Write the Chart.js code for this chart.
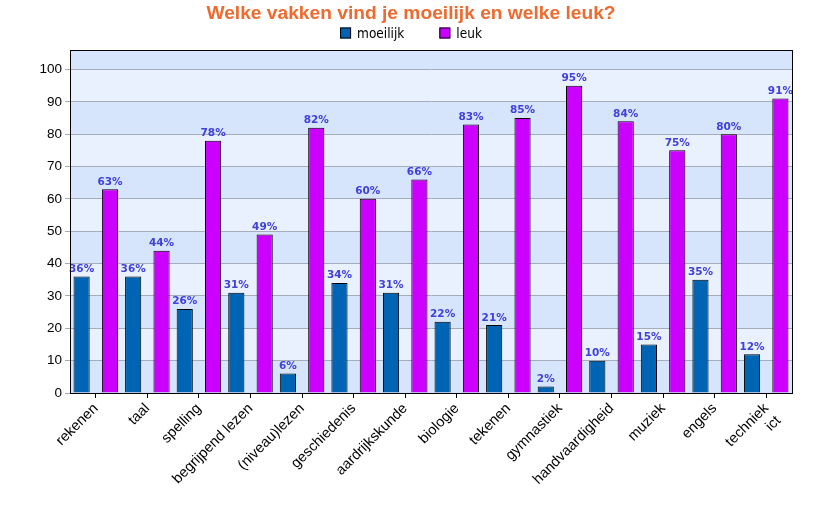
<!DOCTYPE html>
<html>
<head>
<meta charset="utf-8">
<script src="https://cdn.jsdelivr.net/npm/chart.js@4/dist/chart.umd.min.js"></script>
<style>
    body { margin: 0; background: #ffffff; }
    #wrap { width: 822px; height: 522px; }
</style>
</head>
<body>
<div id="wrap"><canvas id="grafiek" width="822" height="522"></canvas></div>
<script>
// ================== DATA ==================

const vakken = ['rekenen', 'taal', 'spelling', 'begrijpend lezen', '(niveau)lezen', 'geschiedenis',
    'aardrijkskunde', 'biologie', 'tekenen', 'gymnastiek', 'handvaardigheid', 'muziek', 'engels',
    ['techniek', 'ict']];
const moeilijk = [36, 36, 26, 31, 6, 34, 31, 22, 21, 2, 10, 15, 35, 12];
const leuk = [63, 44, 78, 49, 82, 60, 66, 83, 85, 95, 84, 75, 80, 91];
const yTicks = [0, 10, 20, 30, 40, 50, 60, 70, 80, 90, 100];
const yMax = 106;

const BLAUW = '#0064b4';
const PAARS = '#cc00ff';

// ================== PLUGINS ==================

// achtergrond in banden van 10
const banden = {
    id: 'banden',
    beforeDraw(chart) {
        const { ctx, chartArea: a, scales: { y } } = chart;
        ctx.save();
        for (let v = 0, i = 0; v < y.max; v += 10, i++) {
            const top = y.getPixelForValue(Math.min(v + 10, y.max));
            const bottom = y.getPixelForValue(v);
            ctx.fillStyle = i % 2 === 0 ? '#d6e5fb' : '#e9f1fe';
            ctx.fillRect(a.left, top, a.right - a.left, bottom - top);
        }
        ctx.restore();
    }
};

// percentages boven de staven
const waarden = {
    id: 'waarden',
    afterDatasetsDraw(chart) {
        const ctx = chart.ctx;
        ctx.save();
        ctx.font = 'bold 10.5px "DejaVu Sans"';
        ctx.fillStyle = '#4040dc';
        ctx.textAlign = 'center';
        ctx.textBaseline = 'bottom';
        chart.data.datasets.forEach((ds, d) => {
            chart.getDatasetMeta(d).data.forEach((bar, i) => {
                ctx.fillText(ds.data[i] + '%', bar.x, bar.y - 2);
            });
        });
        ctx.restore();
    }
};

// rand om het plotgebied + legenda
const rand = {
    id: 'rand',
    afterDraw(chart) {
        const { ctx, chartArea: a } = chart;
        ctx.save();
        ctx.strokeStyle = '#000';
        ctx.lineWidth = 1;
        ctx.strokeRect(Math.round(a.left) + 0.5, Math.round(a.top) + 0.5,
            Math.round(a.right - a.left), Math.round(a.bottom - a.top));

        // legenda
        ctx.font = '13.5px "DejaVu Sans Condensed", sans-serif';
        const items = chart.data.datasets.map(ds => ({
            tekst: ds.label, kleur: ds.backgroundColor, w: ctx.measureText(ds.label).width
        }));
        const box = 11, gap = 6, tussen = 35;
        let totaal = items.reduce((s, it) => s + box + gap + it.w, 0) + tussen * (items.length - 1);
        let x = 411 - totaal / 2;
        const yc = 33;
        ctx.textBaseline = 'middle';
        ctx.textAlign = 'left';
        items.forEach(it => {
            ctx.fillStyle = it.kleur;
            ctx.fillRect(x, yc - box / 2, box, box);
            ctx.strokeStyle = '#000';
            ctx.strokeRect(x + 0.5, yc - box / 2 + 0.5, box - 1, box - 1);
            ctx.fillStyle = '#000';
            ctx.fillText(it.tekst, x + box + gap, yc + 1);
            x += box + gap + it.w + tussen;
        });
        ctx.restore();
    }
};

// ================== GRAFIEK ==================

const ctx = document.getElementById('grafiek');

const grafiek = new Chart(ctx, {
    type: 'bar',
    data: {
        labels: vakken,
        datasets: [{
            label: 'moeilijk',
            data: moeilijk,
            backgroundColor: BLAUW,
            borderColor: '#000',
            borderWidth: 1,
            categoryPercentage: 1.1,
            barPercentage: 0.57
        }, {
            label: 'leuk',
            data: leuk,
            backgroundColor: PAARS,
            borderColor: '#000',
            borderWidth: 1,
            categoryPercentage: 1.1,
            barPercentage: 0.57
        }]
    },
    options: {
        responsive: false,
        animation: false,
        devicePixelRatio: 1,
        // links en rechts even veel, zodat de titel midden staat
        layout: { padding: { left: 30, right: 30, top: 0, bottom: 0 } },
        plugins: {
            legend: { display: false },
            tooltip: { enabled: false },
            title: {
                display: true,
                text: 'Welke vakken vind je moeilijk en welke leuk?',
                color: '#ee6a2e',
                font: { family: 'Liberation Sans', size: 19.2, weight: 'bold' },
                padding: { top: 2, bottom: 25 }
            }
        },
        scales: {
            x: {
                grid: {
                    offset: false,
                    drawOnChartArea: false,
                    drawTicks: true,
                    tickLength: 5,
                    color: '#000'
                },
                border: { display: true, color: '#000' },
                ticks: {
                    color: '#000',
                    font: { family: 'Liberation Sans', size: 14.5 },
                    minRotation: 45,
                    maxRotation: 45,
                    autoSkip: false,
                    padding: 2
                },
                afterFit: s => { s.height = 129; }
            },
            y: {
                min: 0,
                max: yMax,
                afterBuildTicks: s => { s.ticks = yTicks.map(v => ({ value: v })); },
                grid: {
                    color: '#a5adbd',
                    tickLength: 5,
                    drawTicks: true
                },
                border: { display: true, color: '#000' },
                ticks: {
                    color: '#000',
                    font: { family: 'Liberation Sans', size: 13.5 },
                    padding: 3
                },
                afterFit: s => { s.width = 40; }
            }
        }
    },
    plugins: [banden, waarden, rand]
});
</script>
</body>
</html>
